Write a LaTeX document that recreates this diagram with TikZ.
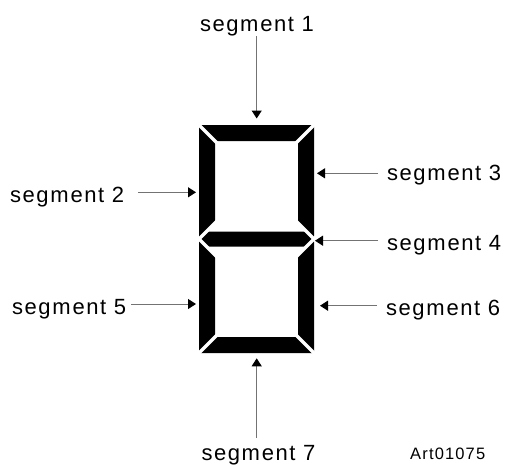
\documentclass[tikz,border=0pt]{standalone}
\usepackage{fontspec}
\setmainfont{Liberation Sans}[LetterSpace=7]
\usetikzlibrary{arrows.meta}
\tikzset{
  lbl/.style={inner sep=0pt, font=\fontsize{22}{26}\selectfont},
  artlbl/.style={inner sep=0pt, font=\fontsize{16.5}{20}\selectfont},
  arr/.style={draw=black!55, line width=1pt, -{Triangle[width=10pt,length=8pt,fill=black,color=black]}},
  seg/.style={fill=black},
  gap/.style={draw=white, line width=3.2pt}
}
\newcommand{\segw}{segm\kern2pt ent}
\begin{document}
\begin{tikzpicture}[x=1pt,y=-1pt]
\useasboundingbox (0,0) rectangle (506,464);
% segments
\fill[seg] (199,125) -- (314,125) -- (298,141) -- (215,141) -- cycle; % 1
\fill[seg] (199,125) -- (215,141) -- (215,223) -- (199,239) -- cycle; % 2
\fill[seg] (314,125) -- (298,141) -- (298,223) -- (314,239) -- cycle; % 3
\fill[seg] (199,239) -- (207,231.5) -- (306,231.5) -- (314,239) -- (306,246.5) -- (207,246.5) -- cycle; % 4
\fill[seg] (199,239) -- (215,255) -- (215,337) -- (199,353) -- cycle; % 5
\fill[seg] (314,239) -- (298,255) -- (298,337) -- (314,353) -- cycle; % 6
\fill[seg] (199,353) -- (215,337) -- (298,337) -- (314,353) -- cycle; % 7
% gaps between segments
\draw[gap] (195,121) -- (217,143);
\draw[gap] (318,121) -- (296,143);
\draw[gap] (195,243) -- (217,221);
\draw[gap] (195,235) -- (217,257);
\draw[gap] (318,243) -- (296,221);
\draw[gap] (318,235) -- (296,257);
\draw[gap] (195,357) -- (217,335);
\draw[gap] (318,357) -- (296,335);
% labels
\node[lbl, anchor=base] (l1) at (257,31.7) {\segw{} 1};
\node[lbl, anchor=base west] (l2) at (10,202.5) {\segw{} 2};
\node[lbl, anchor=base west] (l3) at (387,180.7) {\segw{} 3};
\node[lbl, anchor=base west] (l4) at (387,250.5) {\segw{} 4};
\node[lbl, anchor=base west] (l5) at (12,314) {\segw{} 5};
\node[lbl, anchor=base west] (l6) at (386,315) {\segw{} 6};
\node[lbl, anchor=base] (l7) at (258.5,460.5) {\segw{} 7};
\node[artlbl, anchor=base west] (art) at (410,459.3) {Art01075};
% arrow ends
\coordinate (a1) at (256.7,36);
\coordinate (t1) at (256.7,118.5);
\coordinate (a2) at (138,192.3);
\coordinate (t2) at (196,192.3);
\coordinate (a3) at (378,173.3);
\coordinate (t3) at (317,173.3);
\coordinate (a4) at (378,240.7);
\coordinate (t4) at (315,240.7);
\coordinate (a5) at (131,304);
\coordinate (t5) at (196,304);
\coordinate (a6) at (377,305.7);
\coordinate (t6) at (320,305.7);
\coordinate (a7) at (256.7,438);
\coordinate (t7) at (256.7,358.3);
\draw[arr] (a1) -- (t1);
\draw[arr] (a2) -- (t2);
\draw[arr] (a3) -- (t3);
\draw[arr] (a4) -- (t4);
\draw[arr] (a5) -- (t5);
\draw[arr] (a6) -- (t6);
\draw[arr] (a7) -- (t7);
\end{tikzpicture}
\end{document}
